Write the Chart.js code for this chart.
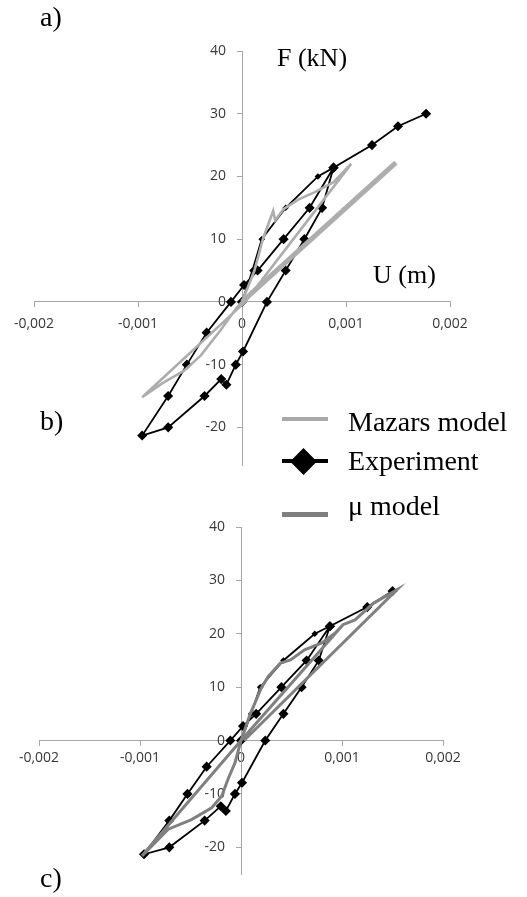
<!DOCTYPE html>
<html>
<head>
<meta charset="utf-8">
<script src="https://cdn.jsdelivr.net/npm/chart.js@4"></script>
<style>
  body { margin: 0; background: #fff; }
  #page { position: relative; width: 527px; height: 897px; overflow: hidden; }
  canvas { position: absolute; left: 0; }
  .lbl { position: absolute; font-family: "Liberation Serif", "Times New Roman", serif; line-height: 1; color: #000; white-space: nowrap; }
  .swatch { position: absolute; left: 282px; width: 46px; }
</style>
</head>
<body>
<div id="page">
  <canvas id="chartA" width="527" height="480" style="top:0"></canvas>
  <canvas id="chartC" width="527" height="417" style="top:480px"></canvas>

  <div class="lbl" style="left:40px; top:3px; font-size:28px">a)</div>
  <div class="lbl" style="left:277px; top:45px; font-size:26px">F (kN)</div>
  <div class="lbl" style="left:373px; top:262px; font-size:26px">U (m)</div>
  <div class="lbl" style="left:40px; top:407px; font-size:28px">b)</div>
  <div class="lbl" style="left:40px; top:864px; font-size:28px">c)</div>

  <!-- legend -->
  <div class="swatch" style="top:417px; height:4px; background:#a9a9a9"></div>
  <div class="lbl" style="left:348px; top:408px; font-size:28px">Mazars model</div>
  <div class="swatch" style="top:459px; height:4px; background:#000"></div>
  <div style="position:absolute; left:294px; top:452px; width:19px; height:19px; background:#000; transform:rotate(45deg)"></div>
  <div class="lbl" style="left:348px; top:447px; font-size:28px">Experiment</div>
  <div class="swatch" style="top:512px; height:5px; background:#7f7f7f"></div>
  <div class="lbl" style="left:348px; top:492px; font-size:28px">μ model</div>
</div>

<script>
// axis ticks
const uTicks = [-0.002, -0.001, 0, 0.001, 0.002];
const fTicks = [40, 30, 20, 10, 0, -10, -20];

// experiment (same test in both panels)
const expU = [0, 0.0001, 0.00019, 0.00042, 0.00073, 0.00088, 0.00077, 0.0006, 0.00042, 0.00024,
  0.00001, -0.00006, -0.00015, -0.0002, -0.00036, -0.00071, -0.00096, -0.00071, -0.00053, -0.00034,
  -0.000106, 0.00002, 0.00015, 0.0004, 0.00065, 0.00088, 0.00125, 0.0015, 0.00177];
const expF = [0, 5, 10, 15, 20, 21.4, 15, 10, 5, 0,
  -7.9, -10, -13.2, -12.3, -15, -20, -21.3, -15, -10, -4.9,
  0, 2.7, 5, 10, 15, 21.4, 25, 28, 30];

// Mazars model (panel a/b)
const mazarsU = [0, 0.00012, 0.0002, 0.0003, 0.00032, 0.0004, 0.00054, 0.0007, 0.00088, 0.00099, 0.00105,
  0.00003, -0.00096, -0.00076, -0.00056, -0.0004, -0.00021, -0.00005, 0];
const mazarsF = [0, 5, 10, 14.5, 13, 14.8, 16.3, 17.5, 19.1, 21, 22,
  0, -15.2, -12.9, -11, -8.6, -4.6, -0.9, 0];
const mazarsReloadU = [0, 0.00148];
const mazarsReloadF = [0, 22.2];

// mu model (panel c)
const muU = [0, 0.00009, 0.0002, 0.00027, 0.00039, 0.00049, 0.00063, 0.0008, 0.00093, 0.00101,
  0, -0.00098, -0.00072, -0.00049, -0.00029, -0.00019, -0.00013, -0.00006, 0,
  0.00101, 0.00113, 0.00131, 0.00154, 0.00003];
const muF = [0, 4.9, 9.8, 12, 14.5, 15.1, 17, 18.3, 20.1, 21.7,
  0, -21.6, -16.6, -14.8, -12.6, -10.4, -7.3, -4.2, 0,
  21.7, 22.6, 25.7, 28.2, 0];

const pts = (us, fs) => us.map((u, i) => ({ x: u, y: fs[i] }));

const axisColor = "#a6a6a6";
const tickFont = { family: "'Open Sans', sans-serif", size: 14 };

function fmtU(v) {
  if (v === 0) return "0";
  return v.toFixed(3).replace(".", ",");
}

// centred y axis ignores ticks.padding, so keep the labels off the line with figure spaces
function fmtF(v) {
  return String(v) + "\u2007\u2007";
}

// x labels on a centred axis sit half a line below the tick, so the line height sets the gap
function makeScales(fMin, xLineHeight) {
  return {
    x: {
      type: "linear", min: -0.002, max: 0.002,
      position: { y: 0 },
      afterBuildTicks: s => { s.ticks = uTicks.map(v => ({ value: v })); },
      ticks: { callback: fmtU, font: Object.assign({ lineHeight: xLineHeight }, tickFont),
        color: "#383838", maxRotation: 0, autoSkip: false },
      grid: { drawOnChartArea: false, tickLength: 5, color: axisColor },
      border: { color: axisColor }
    },
    y: {
      type: "linear", min: fMin, max: 40,
      position: { x: 0 },
      afterBuildTicks: s => { s.ticks = fTicks.map(v => ({ value: v })); },
      ticks: { callback: fmtF, font: tickFont, color: "#383838", autoSkip: false },
      grid: { drawOnChartArea: false, tickLength: 5, color: axisColor },
      border: { color: axisColor }
    }
  };
}

const expStyle = {
  borderColor: "#000", backgroundColor: "#000", borderWidth: 1.8,
  pointStyle: "rectRot",
  pointRadius: ctx => ctx.dataIndex > 0 && ctx.dataIndex < 5 ? 2 : 3.8,
  showLine: true, tension: 0
};

// panel a/b
new Chart(document.getElementById("chartA").getContext("2d"), {
  type: "scatter",
  data: {
    datasets: [
      { label: "Mazars reload", data: pts(mazarsReloadU, mazarsReloadF), borderColor: "#adadad",
        borderWidth: 5, pointRadius: 0, showLine: true },
      { label: "Mazars model", data: pts(mazarsU, mazarsF), borderColor: "#adadad",
        borderWidth: 2.6, pointRadius: 0, showLine: true },
      Object.assign({ label: "Experiment", data: pts(expU, expF) }, expStyle)
    ]
  },
  options: {
    responsive: false, animation: false,
    layout: { padding: { left: 34, right: 77, top: 51, bottom: 15 } },
    plugins: { legend: { display: false }, tooltip: { enabled: false } },
    scales: makeScales(-26, 2.05)
  }
});

// panel c
new Chart(document.getElementById("chartC").getContext("2d"), {
  type: "scatter",
  data: {
    datasets: [
      { label: "μ model", data: pts(muU, muF), borderColor: "#808080",
        borderWidth: 3, pointRadius: 0, showLine: true },
      Object.assign({ label: "Experiment", data: pts(expU.slice(0, -1), expF.slice(0, -1)) }, expStyle)
    ]
  },
  options: {
    responsive: false, animation: false,
    layout: { padding: { left: 39, right: 84, top: 47, bottom: 23 } },
    plugins: { legend: { display: false }, tooltip: { enabled: false } },
    scales: makeScales(-25, 1.4)
  }
});
</script>
</body>
</html>
